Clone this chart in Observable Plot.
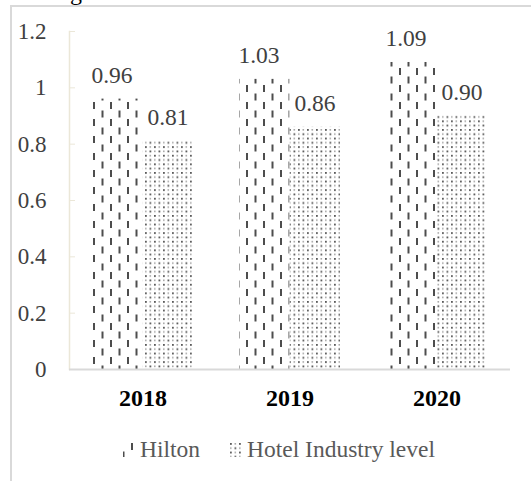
<!DOCTYPE html>
<html><head><meta charset="utf-8">
<script src="https://cdn.jsdelivr.net/npm/d3@7"></script>
<script src="https://cdn.jsdelivr.net/npm/@observablehq/plot@0.6"></script>
<style>
body{margin:0;background:#fff;}
#wrap{position:relative;width:531px;height:481px;overflow:hidden;font-family:"Liberation Serif","Times New Roman",serif;background:#fff;}
#border{position:absolute;left:10px;top:5px;width:540px;height:500px;border-left:2px solid #d9d9d9;border-top:2px solid #d9d9d9;}
#chart{position:absolute;left:0;top:0;}
#cap{position:absolute;left:70px;top:-20px;font-size:24px;line-height:24px;color:#000;white-space:nowrap;font-family:"Liberation Serif",serif;}
.leg{position:absolute;top:436px;font-size:23.5px;line-height:26px;color:#595959;white-space:nowrap;font-family:"Liberation Serif","Times New Roman",serif;}
.sw{position:absolute;top:443px;}
</style></head>
<body>
<div id="wrap">
<div id="cap">g</div>
<div id="border"></div>
<div id="chart"></div>
</div>
<script>
const years = ["2018", "2019", "2020"];
const hiltonValues = [0.96, 1.03, 1.09];
const industryValues = [0.81, 0.86, 0.90];
const seriesNames = ["Hilton", "Hotel Industry level"];
const yTicks = [0, 0.2, 0.4, 0.6, 0.8, 1, 1.2];

const hiltonData = years.map((y, i) => ({year: y, series: seriesNames[0], value: hiltonValues[i]}));
const industryData = years.map((y, i) => ({year: y, series: seriesNames[1], value: industryValues[i]}));

const W = 531, mL = 69, mR = 21;
const pInner = 0.31, pOuter = 0.155;
const step = (W - mL - mR) / (years.length - pInner + 2 * pOuter);
const bw = step * (1 - pInner);
const serif = "'Liberation Serif', 'Times New Roman', serif";

const patterns = `
<pattern id="pHilton" patternUnits="userSpaceOnUse" x="8" y="0" width="17" height="17">
  <rect x="0" y="0" width="2" height="7" fill="#4d4d4d"/>
  <rect x="8.5" y="8.5" width="2" height="7" fill="#4d4d4d"/>
</pattern>
<pattern id="pInd" patternUnits="userSpaceOnUse" x="1" y="0" width="9" height="8.6">
  <rect x="0" y="0" width="1.8" height="1.8" fill="#5a5a5a"/>
  <rect x="4.5" y="4.3" width="1.8" height="1.8" fill="#5a5a5a"/>
  <rect x="4.5" y="0" width="1.6" height="1.6" fill="#a8a8a8"/>
  <rect x="0" y="4.3" width="1.6" height="1.6" fill="#a8a8a8"/>
</pattern>`;

const plot = Plot.plot({
  width: W, height: 420,
  marginLeft: mL, marginRight: mR, marginTop: 31, marginBottom: 51,
  style: {fontFamily: serif, background: "transparent", overflow: "visible"},
  x: {domain: years, paddingInner: pInner, paddingOuter: pOuter, label: null},
  y: {domain: [0, 1.2], label: null},
  marks: [
    Plot.frame({anchor: "left", stroke: "#ebe7d8", strokeWidth: 1.5}),
    Plot.axisY({ticks: yTicks, tickSize: -6, tickFormat: () => "", color: "#ebe7d8", label: null}),
    Plot.axisY({ticks: yTicks, tickSize: 0, tickPadding: 23, tickFormat: d => String(d), color: "#404040", fontSize: 23, label: null}),
    Plot.axisX({tickSize: 0, tickPadding: 19, fontSize: 24, fontWeight: "bold", color: "#000", label: null}),
    Plot.barY(hiltonData, {x: "year", y: "value", fill: "url(#pHilton)", insetRight: bw / 2}),
    Plot.barY(industryData, {x: "year", y: "value", fill: "url(#pInd)", insetLeft: bw / 2}),
    Plot.ruleY([0], {stroke: "#d9d9d9", strokeWidth: 2}),
    Plot.text(hiltonData, {x: "year", y: "value", text: d => d.value.toFixed(2), dy: -24, dx: -31, fontSize: 23.5, fill: "#404040", fontFamily: serif}),
    Plot.text(industryData, {x: "year", y: "value", text: d => d.value.toFixed(2), dy: -24, dx: 25, fontSize: 23.5, fill: "#404040", fontFamily: serif})
  ]
});
const ns = "http://www.w3.org/2000/svg";
const defs = document.createElementNS(ns, "defs");
defs.innerHTML = patterns;
plot.insertBefore(defs, plot.firstChild);
document.getElementById("chart").appendChild(plot);

// legend
const wrap = document.getElementById("wrap");
const legendItems = [
  {name: seriesNames[0], swX: 123, textX: 140, fill: "url(#pHilton)"},
  {name: seriesNames[1], swX: 229, textX: 247, fill: "url(#pInd)"}
];
legendItems.forEach(it => {
  const s = document.createElementNS(ns, "svg");
  s.setAttribute("class", "sw");
  s.setAttribute("width", 14); s.setAttribute("height", 14);
  s.style.left = it.swX + "px";
  s.innerHTML = `<defs>${patterns}</defs><rect x="0" y="0" width="14" height="14" fill="${it.fill}"/>`;
  wrap.appendChild(s);
  const t = document.createElement("div");
  t.className = "leg";
  t.style.left = it.textX + "px";
  t.textContent = it.name;
  wrap.appendChild(t);
});
</script>
</body></html>
